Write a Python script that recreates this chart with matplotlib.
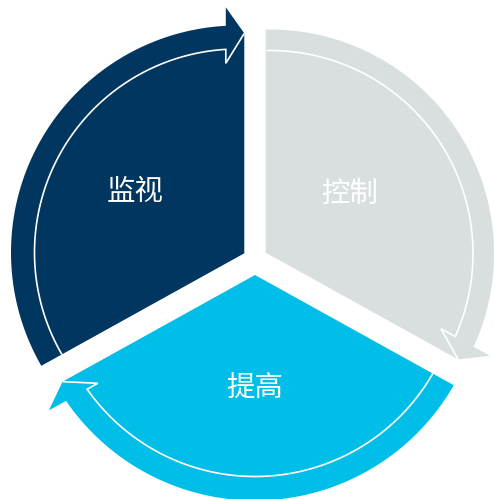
import numpy as np
import matplotlib
matplotlib.use('Agg')
import matplotlib.pyplot as plt
from matplotlib.patches import Polygon

plt.rcParams['font.family'] = ['Noto Sans CJK SC', 'DejaVu Sans']

# data: three equal steps of the cycle (clockwise order from the top)
labels = ['控制', '提高', '监视']
values = [1, 1, 1]
colors = ['#D9DFDF', '#00BEE7', '#00365F']

W, H = 495, 499

# layout (pixel units, y up)
apex = [(265.7, 246.3), (255.0, 224.0), (244.3, 245.7)]   # wedge corner
arc_c = [(270.0, 245.5), (255.0, 227.5), (238.0, 246.5)]  # outer arc centre
R_out = [224, 229, 227]
R_line = [203, 205, 203.5]
lab_pol = [(103, 35), (113, 270), (125, 150.5)]  # label (dist, angle) from apex
tilt = 1.0  # the lower splits sit slightly flatter than 30 deg

# arrowhead, local frame (u along end edge, v into the slice)
tip_u, base_out_u, base_in_u, base_v = 220, 246, 190, 18.5


def unit(a):
    a = np.radians(a)
    return np.array([np.cos(a), np.sin(a)])


def hit(q, d, c, r):
    # distance u along q + u*d where the circle (c, r) is crossed
    qc = q - c
    b = d @ qc
    return -b + np.sqrt(b * b - (qc @ qc - r * r))


def arc(c, r, a1, a2, n=120):
    # counter-clockwise from a1 to a2
    while a2 < a1:
        a2 += 360
    t = np.radians(np.linspace(a1, a2, n))
    return np.column_stack([c[0] + r * np.cos(t), c[1] + r * np.sin(t)])


def ang(c, p):
    return np.degrees(np.arctan2(p[1] - c[1], p[0] - c[0]))


# split angles from the values, clockwise from 90 deg
total = float(sum(values))
bounds = [90.0]
for v in values:
    bounds.append(bounds[-1] - 360 * v / total)
bounds = [b % 360 for b in bounds]
bounds[1] += tilt
bounds[2] -= tilt

fig = plt.figure(figsize=(W / 100, H / 100), dpi=100)
ax = fig.add_axes([0, 0, 1, 1])
ax.set_xlim(0, W)
ax.set_ylim(0, H)
ax.axis('off')

for i in range(3):
    a_start = bounds[i]
    a_end = bounds[i + 1]
    p0 = np.array(apex[i])
    c = np.array(arc_c[i])
    d_end = unit(a_end)
    d_start = unit(a_start)
    n_end = np.array([-d_end[1], d_end[0]])

    tip = p0 + tip_u * d_end
    b_out = p0 + base_out_u * d_end + base_v * n_end
    b_in = p0 + base_in_u * d_end + base_v * n_end
    q = p0 + base_v * n_end

    # slice outline
    p_base_R = q + hit(q, d_end, c, R_out[i]) * d_end
    p_start_R = p0 + hit(p0, d_start, c, R_out[i]) * d_start
    outer = arc(c, R_out[i], ang(c, p_base_R), ang(c, p_start_R))
    pts = np.vstack([p0, tip, b_out, outer, p0])
    ax.add_patch(Polygon(pts, closed=True, fc=colors[i], ec='none'))

    # thin white line with the arrow notch
    p_base_r = q + hit(q, d_end, c, R_line[i]) * d_end
    p_start_r = p0 + hit(p0, d_start, c, R_line[i]) * d_start
    inner = arc(c, R_line[i], ang(c, p_base_r), ang(c, p_start_r))[::-1]
    line = np.vstack([inner, b_in, tip])
    ax.plot(line[:, 0], line[:, 1], color='white', lw=1.2,
            solid_joinstyle='miter', solid_capstyle='butt')

    dist, la = lab_pol[i]
    lp = p0 + dist * unit(la)
    ax.text(lp[0], lp[1], labels[i], color='white', fontsize=20.5,
            fontweight='medium', ha='center', va='center')

fig.savefig('out.png', dpi=100)
